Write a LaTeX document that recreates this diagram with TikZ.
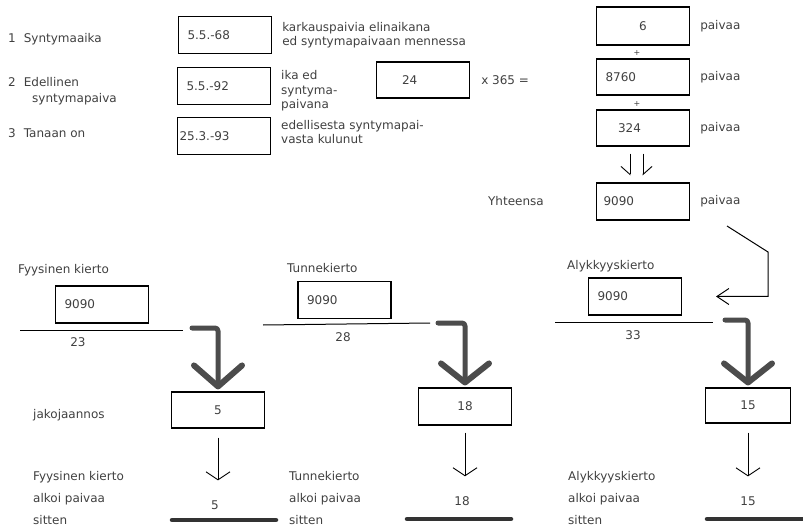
\documentclass[tikz,border=0pt]{standalone}
\usepackage{fontspec}
\setmainfont{DejaVu Sans}
\usetikzlibrary{arrows.meta,positioning}

\begin{document}
\begin{tikzpicture}[x=1pt,y=-1pt,
  txt/.style={inner sep=0pt,anchor=west,align=left,text=black!75,font=\fontsize{12}{14.5}\selectfont},
  num/.style={inner sep=0pt,text=black!75,font=\fontsize{12}{14.5}\selectfont},
  box/.style={draw,line width=1.1pt,minimum width=93pt,minimum height=37pt,inner sep=0pt,text=black!75,font=\fontsize{12}{14.5}\selectfont},
  lbox/.style={box,text width=75pt,align=left},
  foot/.style={txt,font=\fontsize{12}{22}\selectfont},
  drop/.style={line width=0.9pt,-{Straight Barb[length=8pt,width=24pt]}},
  half/.style={line width=0.9pt,shorten <=7pt,shorten >=7pt},
  fat/.style={draw=black!70,line width=5pt,line cap=round,line join=round,rounded corners=3pt},
  sumbar/.style={draw=black!80,line width=4.5pt,line cap=round}]

\useasboundingbox (0,0) rectangle (803,529);

% ika paivina
\node[txt] (l1) at (8,39) {1\hspace{8pt}Syntymaaika};
\node[lbox] (b1) at (225,35) {5.5.-68};
\node[txt] (t1) [right=10pt of b1] {karkauspaivia elinaikana\\ed syntymapaivaan mennessa};

\node[txt,font=\fontsize{12}{16}\selectfont] (l2) at (8,91) {2\hspace{8pt}Edellinen\\\hspace{24pt}syntymapaiva};
\node[lbox] (b2) at (224,86) {5.5.-92};
\node[txt] (t2) at (281,91) {ika ed\\syntyma-\\paivana};
\node[lbox,text width=42pt,minimum height=36pt] (b24) at (423,80) {24};
\node[txt] (x365) [right=11pt of b24] {x 365 =};

\node[txt] (l3) at (8,133) {3\hspace{8pt}Tanaan on};
\node[lbox,text width=89pt] (b3) at (224,136) {25.3.-93};
\node[txt] (t3) at (281,132) {edellisesta syntymapai-\\vasta kulunut};

% summa
\node[box,minimum height=38pt] (b6) at (643,26) {6};
\node[txt] (p6) [right=10pt of b6] {paivaa};
\node[num,font=\fontsize{8}{8}\selectfont] (plus1) at (637,53) {+};
\node[lbox,minimum height=36pt] (b8760) at (643,77) {8760};
\node[txt] (p8760) [right=10pt of b8760] {paivaa};
\node[num,font=\fontsize{8}{8}\selectfont] (plus2) at (637,104) {+};
\node[lbox,text width=50pt,minimum height=36pt] (b324) at (643,128) {324};
\node[txt] (p324) [right=10pt of b324] {paivaa};
\node[lbox,text width=79pt] (btot) at (643,201.5) {9090};
\node[txt] (yht) [left=52pt of btot] {Yhteensa};
\node[txt] (ptot) [right=10pt of btot] {paivaa};

\draw[half,-{Straight Barb[right,length=8pt,width=18pt]}] ([xshift=-13pt]b324.south) -- ([xshift=-13pt]btot.north);
\draw[half,-{Straight Barb[left,length=8pt,width=18pt]}] (b324.south) -- (btot.north);

% Fyysinen kierto
\node[txt] (h1) at (18,270) {Fyysinen kierto};
\node[lbox] (c1) at (102,304.5) {9090};
\draw[line width=1pt] (20,330) -- (183,330);
\node[num] (d1) at (78,342) {23};
\node[box,minimum height=36pt] (r1) at (218,410) {5};
\node[txt] (j1) at (33,415) {jakojaannos};
\draw[fat] (192,328) -| ([yshift=5pt]r1.north);
\draw[fat,line width=6pt,rounded corners=0pt] ([xshift=-24pt,yshift=26pt]r1.north) -- ([yshift=5pt]r1.north) -- ([xshift=24pt,yshift=26pt]r1.north);
\node[num] (n1) at (215,505) {5};
\draw[drop,shorten <=9pt,shorten >=20pt] (r1.south) -- (r1.south |- n1.north);
\draw[sumbar] (172,520) -- (276,520);
\node[foot] (f1) at (33,498) {Fyysinen kierto\\alkoi paivaa\\sitten};

% Tunnekierto
\node[txt] (h2) at (287,268) {Tunnekierto};
\node[lbox] (c2) at (344.5,300) {9090};
\draw[line width=1pt] (263,325) -- (430,323);
\node[num] (d2) at (343,337) {28};
\node[box] (r2) at (465,406.5) {18};
\draw[fat] (438,323) -| ([yshift=5pt]r2.north);
\draw[fat,line width=6pt,rounded corners=0pt] ([xshift=-24pt,yshift=24pt]r2.north) -- ([yshift=5pt]r2.north) -- ([xshift=24pt,yshift=24pt]r2.north);
\node[num] (n2) at (462,501) {18};
\draw[drop,shorten <=7pt,shorten >=20pt] (r2.south) -- (r2.south |- n2.north);
\draw[sumbar] (407,519) -- (511,519);
\node[foot] (f2) at (289,498) {Tunnekierto\\alkoi paivaa\\sitten};

% Alykkyyskierto
\node[txt] (h3) at (567,266) {Alykkyyskierto};
\node[lbox] (c3) at (635,296.5) {9090};
\draw[line width=1pt] (555,322) -- (713,322);
\node[num] (d3) at (633,335) {33};
\node[box,minimum width=85pt,minimum height=35pt] (r3) at (748,405.5) {15};
\draw[fat] (725,320) -| ([yshift=5pt]r3.north);
\draw[fat,line width=6pt,rounded corners=0pt] ([xshift=-24pt,yshift=24pt]r3.north) -- ([yshift=5pt]r3.north) -- ([xshift=24pt,yshift=24pt]r3.north);
\node[num] (n3) at (748,501) {15};
\draw[drop,shorten <=9pt,shorten >=20pt] (r3.south) -- (r3.south |- n3.north);
\draw[sumbar] (707,519) -- (815,519);
\node[foot] (f3) at (568,498) {Alykkyyskierto\\alkoi paivaa\\sitten};

% yhteensa -> alykkyyskierto
\coordinate (k1) at (727,226);
\draw[line width=1pt,-{Straight Barb[length=12pt,width=16pt]}] (k1) -- (768,252) |- ([xshift=34pt]c3.east);

\end{tikzpicture}
\end{document}
